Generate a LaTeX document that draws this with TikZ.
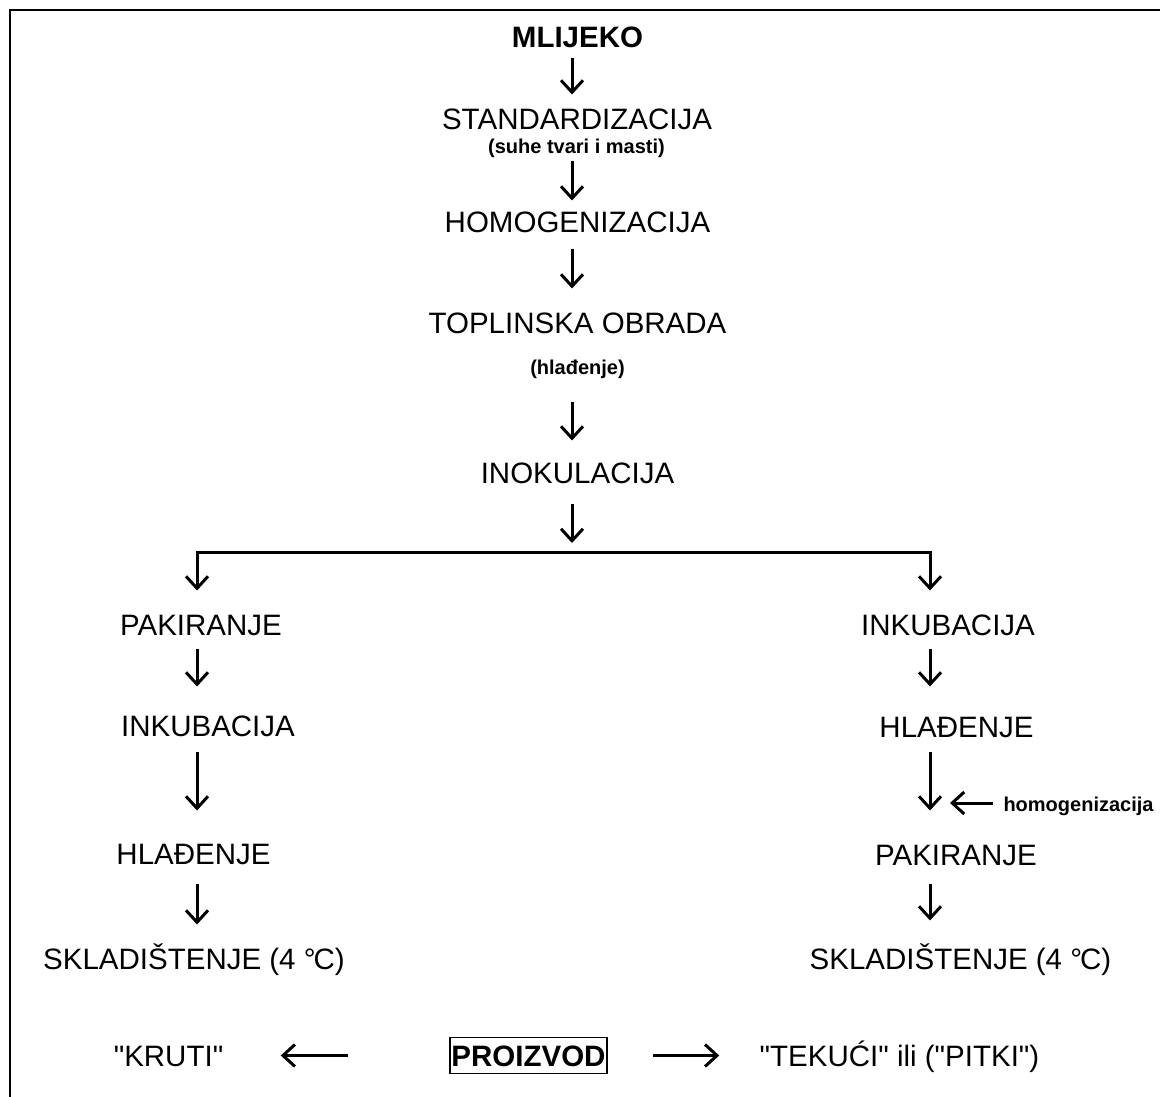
\documentclass[tikz,border=0pt]{standalone}
\usepackage{fontspec}
\setmainfont{Liberation Sans}[Ligatures=TeXOff]
\usetikzlibrary{arrows.meta}

\tikzset{every picture/.style={line width=3pt}}
\tikzset{
  caps/.style={font=\fontsize{29.5pt}{34pt}\selectfont, inner sep=0pt, text height=21pt, text depth=0pt, anchor=base},
  note/.style={font=\fontsize{20pt}{24pt}\selectfont\bfseries, inner sep=0pt, text height=15pt, text depth=4pt, anchor=base},
  flow/.style 2 args={-{Straight Barb[length=12pt,width=22pt]}, line width=3pt, shorten <=#1, shorten >=#2}
}

\begin{document}
\begin{tikzpicture}[x=1pt,y=1pt,yscale=-1,xscale=1]
\useasboundingbox (0,0) rectangle (1160,1097);

%Frame
\draw [line width=2.5pt] (10,1097) -- (10,10) -- (1160,10) ;

%Columns of the arrows
\coordinate (colM) at (572,0);
\coordinate (colL) at (197,0);
\coordinate (colR) at (930,0);
\coordinate (split) at (572,552);

% Text Node
\draw (577.5,48) node [caps,font=\fontsize{29.5pt}{34pt}\selectfont\bfseries] (mlijeko) {MLIJEKO};
% Text Node
\draw (577,130) node [caps] (stand) {STANDARDIZACIJA};
% Text Node
\draw (576.5,154) node [note] (suhe) {(suhe tvari i masti)};
% Text Node
\draw (577.5,232) node [caps] (homog) {HOMOGENIZACIJA};
% Text Node
\draw (577.5,333) node [caps] (topl) {TOPLINSKA OBRADA};
% Text Node
\draw (577.5,374) node [note] (hlad) {(hlađenje)};
% Text Node
\draw (577.5,483) node [caps] (inok) {INOKULACIJA};

% Text Node
\draw (201,635) node [caps] (pakL) {PAKIRANJE};
% Text Node
\draw (208,736) node [caps] (inkL) {INKUBACIJA};
% Text Node
\draw (193.5,864) node [caps] (hlaL) {HLAĐENJE};
% Text Node
\draw (194,969) node [caps] (sklL) {SKLADIŠTENJE (4 °\kern-2pt C)};

% Text Node
\draw (948,635) node [caps] (inkR) {INKUBACIJA};
% Text Node
\draw (956.5,737) node [caps] (hlaR) {HLAĐENJE};
% Text Node
\draw (956,865) node [caps] (pakR) {PAKIRANJE};
% Text Node
\draw (960.5,969) node [caps] (sklR) {SKLADIŠTENJE (4 °\kern-2pt C)};
% Text Node
\draw (1002,811) node [note,anchor=base west,text height=17pt,text depth=1pt] (homogR) {homogenizacija};

% Text Node
\draw (168.5,1066) node [caps] (kruti) {"KRUTI"};
% Text Node
\draw (528.5,1066) node [caps,font=\fontsize{29.5pt}{34pt}\selectfont\bfseries,draw,line width=1.5pt,inner xsep=1.5pt,inner ysep=7.5pt] (proizvod) {PROIZVOD};
% Text Node
\draw (899.5,1066) node [caps] (tekuci) {"TEKUĆI" ili ("PITKI")};

%Straight Lines
\draw [flow={9pt}{13pt}] (mlijeko.south -| colM) -- (stand.north -| colM) ;
\draw [flow={2pt}{9pt}] (suhe.south -| colM) -- (homog.north -| colM) ;
\draw [flow={15pt}{22pt}] (homog.south -| colM) -- (topl.north -| colM) ;
\draw [flow={22pt}{20pt}] (hlad.south -| colM) -- (inok.north -| colM) ;
\draw [flow={19pt}{9pt}] (inok.south -| colM) -- (split) ;
%Branches
\draw [flow={0pt}{22pt}] (split) -| (pakL.north -| colL) ;
\draw [flow={0pt}{22pt}] (split) -| (inkR.north -| colR) ;
%Left column
\draw [flow={12pt}{27pt}] (pakL.south -| colL) -- (inkL.north -| colL) ;
\draw [flow={14pt}{31pt}] (inkL.south -| colL) -- (hlaL.north -| colL) ;
\draw [flow={18pt}{22pt}] (hlaL.south -| colL) -- (sklL.north -| colL) ;
%Right column
\draw [flow={12pt}{28pt}] (inkR.south -| colR) -- (hlaR.north -| colR) ;
\draw [flow={13pt}{32pt}] (hlaR.south -| colR) -- (pakR.north -| colR) ;
\draw [flow={17pt}{26pt}] (pakR.south -| colR) -- (sklR.north -| colR) ;
\draw [flow={9pt}{20pt}] (homogR.west) -- (homogR.west -| colR) ;
%Product
\draw [flow={101pt}{56pt}] (proizvod.west) -- (kruti.east) ;
\draw [flow={45pt}{39pt}] (proizvod.east) -- (tekuci.west) ;
\end{tikzpicture}
\end{document}
